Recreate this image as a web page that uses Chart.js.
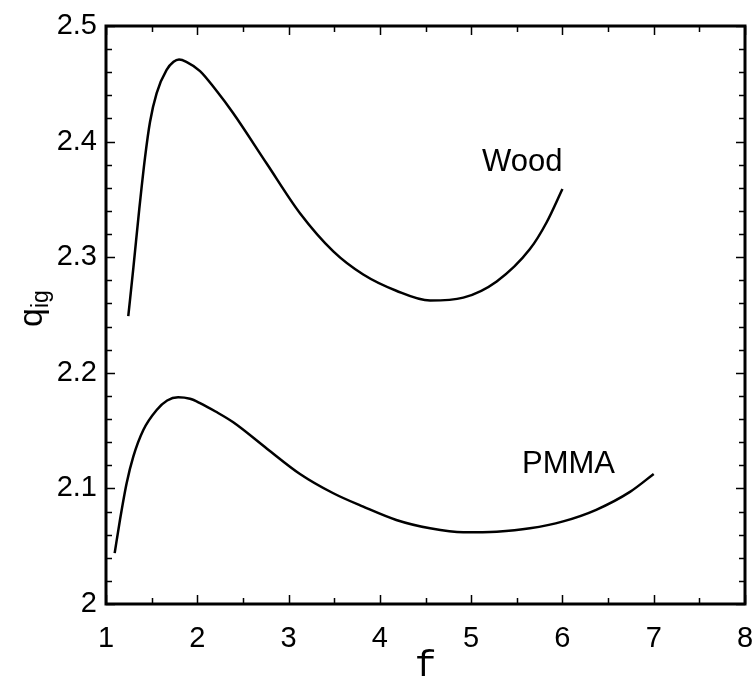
<!DOCTYPE html>
<html lang="en">
<head>
    <meta charset="UTF-8">
    <title>qig vs f</title>
    <script src="https://cdn.jsdelivr.net/npm/chart.js"></script>
    <style>
        body { margin: 0; background: #fff; }
        #wrap { width: 752px; height: 679px; }
    </style>
</head>
<body>
    <div id="wrap">
        <canvas id="chart" width="752" height="679"></canvas>
    </div>

    <script>
        // Curve values
        const woodX = [1.244, 1.30, 1.365, 1.427, 1.482, 1.555, 1.664, 1.74, 1.80, 1.88, 2.03, 2.2, 2.394, 2.76, 3.125, 3.49, 3.818, 4.18, 4.55, 4.914, 5.28, 5.644, 5.826, 6.0];
        const woodY = [2.249, 2.291, 2.342, 2.386, 2.417, 2.442, 2.462, 2.469, 2.471, 2.469, 2.461, 2.445, 2.4245, 2.381, 2.338, 2.305, 2.285, 2.271, 2.2625, 2.265, 2.279, 2.307, 2.330, 2.359];

        const pmmaX = [1.095, 1.153, 1.226, 1.299, 1.409, 1.555, 1.67, 1.79, 1.92, 2.03, 2.2, 2.394, 2.76, 3.125, 3.49, 3.818, 4.18, 4.55, 4.914, 5.28, 5.644, 6.008, 6.37, 6.74, 7.0];
        const pmmaY = [2.044, 2.0727, 2.1045, 2.1275, 2.1505, 2.1678, 2.176, 2.1788, 2.1775, 2.1738, 2.1665, 2.1572, 2.1346, 2.1125, 2.0958, 2.0842, 2.0727, 2.0655, 2.062, 2.0626, 2.0655, 2.0715, 2.0815, 2.097, 2.1125];

        // where the curve names sit (data coordinates, left / baseline)
        const labelNames = ['Wood', 'PMMA'];
        const labelX = [5.12, 5.557];
        const labelY = [2.3746, 2.1133];

        const xMin = 1, xMax = 8, xMajor = 1, xMinor = 0.5;
        const yMin = 2, yMax = 2.5, yMajor = 0.1, yMinor = 0.02;

        const toPoints = (xs, ys) => xs.map((x, i) => ({ x: x, y: ys[i] }));

        const FONT = "'Liberation Sans', Arial, sans-serif";

        // inward ticks on all four sides, frame, labels and axis titles
        const framePlugin = {
            id: 'frame',
            afterDraw(chart) {
                const ctx = chart.ctx;
                const a = chart.chartArea;
                const sx = chart.scales.x, sy = chart.scales.y;
                ctx.save();

                // ticks
                ctx.strokeStyle = '#000';
                ctx.lineWidth = 1.5;
                ctx.beginPath();
                for (let v = xMin; v <= xMax + 1e-9; v += xMinor) {
                    const px = Math.round(sx.getPixelForValue(v)) + 0.5;
                    const major = Math.abs(v / xMajor - Math.round(v / xMajor)) < 1e-6;
                    const len = major ? 9 : 6;
                    ctx.moveTo(px, a.bottom); ctx.lineTo(px, a.bottom - len);
                    ctx.moveTo(px, a.top); ctx.lineTo(px, a.top + len);
                }
                for (let v = yMin; v <= yMax + 1e-9; v += yMinor) {
                    const py = Math.round(sy.getPixelForValue(v)) + 0.5;
                    const major = Math.abs(v / yMajor - Math.round(v / yMajor)) < 1e-6;
                    const len = major ? 9 : 6;
                    ctx.moveTo(a.left, py); ctx.lineTo(a.left + len, py);
                    ctx.moveTo(a.right, py); ctx.lineTo(a.right - len, py);
                }
                ctx.stroke();

                // frame
                ctx.lineWidth = 3;
                ctx.strokeRect(a.left, a.top, a.right - a.left, a.bottom - a.top);

                // curve names
                ctx.fillStyle = '#000';
                ctx.font = '31px ' + FONT;
                ctx.textAlign = 'left';
                ctx.textBaseline = 'alphabetic';
                labelNames.forEach((t, i) => {
                    ctx.fillText(t, sx.getPixelForValue(labelX[i]), sy.getPixelForValue(labelY[i]));
                });

                // x title
                ctx.font = "36px 'Liberation Mono', 'Courier New', monospace";
                ctx.textAlign = 'center';
                ctx.fillText('f', (a.left + a.right) / 2, 676);

                // y title: q with subscript ig
                ctx.translate(42, 327);
                ctx.rotate(-Math.PI / 2);
                ctx.textAlign = 'left';
                ctx.font = '34px ' + FONT;
                ctx.fillText('q', 0, 0);
                const qw = ctx.measureText('q').width;
                ctx.font = '23px ' + FONT;
                ctx.fillText('ig', qw, 6);

                ctx.restore();
            }
        };

        const lineStyle = {
            showLine: true,
            borderColor: '#000',
            borderWidth: 2.5,
            pointRadius: 0,
            cubicInterpolationMode: 'monotone'
        };

        const ctx = document.getElementById('chart').getContext('2d');
        const chart = new Chart(ctx, {
            type: 'scatter',
            data: {
                datasets: [
                    Object.assign({ label: 'Wood', data: toPoints(woodX, woodY) }, lineStyle),
                    Object.assign({ label: 'PMMA', data: toPoints(pmmaX, pmmaY) }, lineStyle)
                ]
            },
            options: {
                responsive: false,
                animation: false,
                layout: { padding: { top: 26, right: 7, left: 0, bottom: 0 } },
                plugins: {
                    legend: { display: false },
                    tooltip: { enabled: false }
                },
                scales: {
                    x: {
                        type: 'linear',
                        min: xMin,
                        max: xMax,
                        grid: { display: false, tickLength: 0 },
                        border: { display: false },
                        ticks: {
                            stepSize: xMajor,
                            color: '#000',
                            padding: 18,
                            font: { size: 29, family: FONT }
                        },
                        afterFit: s => { s.height = 75; s.paddingLeft = 0; s.paddingRight = 0; }
                    },
                    y: {
                        min: yMin,
                        max: yMax,
                        grid: { display: false, tickLength: 0 },
                        border: { display: false },
                        ticks: {
                            stepSize: yMajor,
                            color: '#000',
                            padding: 9,
                            font: { size: 29, family: FONT },
                            callback: v => String(Number(v.toFixed(1)))
                        },
                        afterFit: s => { s.width = 106; s.paddingTop = 0; s.paddingBottom = 0; }
                    }
                }
            },
            plugins: [framePlugin]
        });
    </script>
</body>
</html>
